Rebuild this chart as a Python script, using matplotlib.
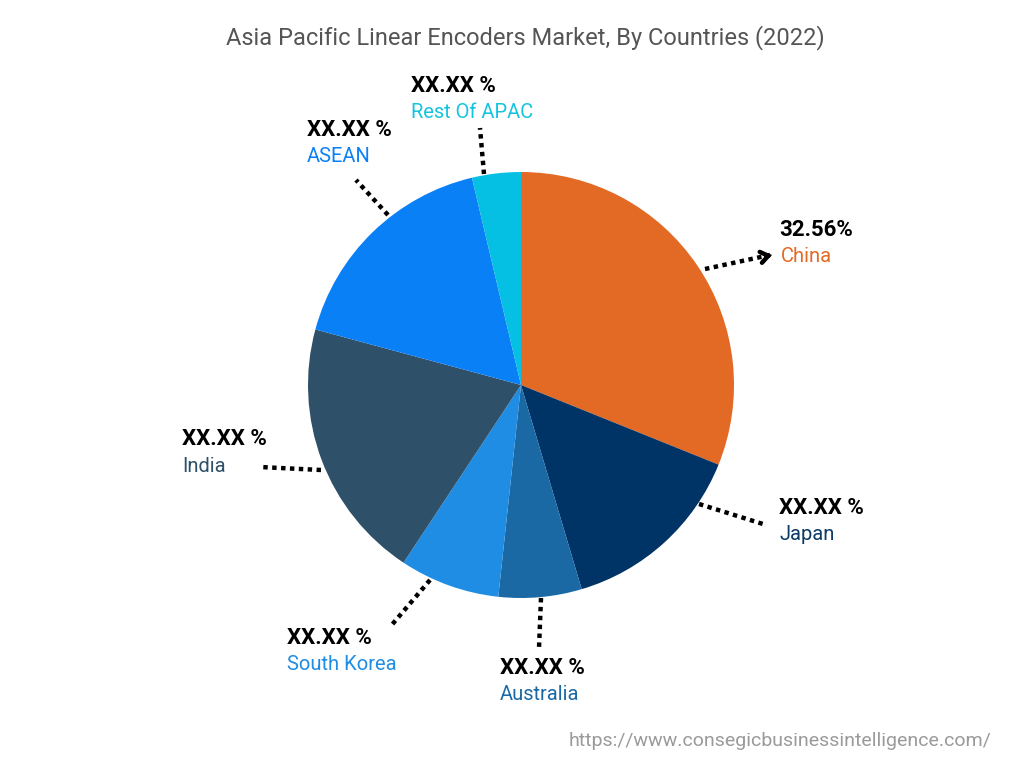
import numpy as np
import matplotlib
matplotlib.use("Agg")
import matplotlib.pyplot as plt

# ---- data ----
countries = ["China", "Japan", "Australia", "South Korea", "India", "ASEAN", "Rest Of APAC"]
shares = [31.1, 14.3, 6.3, 7.6, 19.9, 17.1, 3.7]
value_labels = ["32.56%", "XX.XX %", "XX.XX %", "XX.XX %", "XX.XX %", "XX.XX %", "XX.XX %"]
colors = ["#E36A25", "#003366", "#1A69A5", "#1E8DE3", "#2F5069", "#0A80F7", "#05C0E3"]
name_colors = ["#E36A25", "#0B3A66", "#1A69A5", "#1E8DE3", "#2F5069", "#0A80F7", "#14C3E0"]

title = "Asia Pacific Linear Encoders Market, By Countries (2022)"
source = "https://www.consegicbusinessintelligence.com/"

# ---- layout ----
W, H = 1024, 768
fig = plt.figure(figsize=(W / 100, H / 100), dpi=100)
ax = fig.add_axes([0, 0, 1, 1])

cx, cy, R = 521, H - 385, 213
wedges, _ = ax.pie(shares, colors=colors, startangle=90, counterclock=False,
                   center=(cx, cy), radius=R, frame=True,
                   wedgeprops=dict(linewidth=0))
ax.set_xlim(0, W)
ax.set_ylim(0, H)
ax.set_aspect("equal")
ax.axis("off")

FONT = ["Roboto", "DejaVu Sans"]

# leader lines (start px, end px) and label anchor (x, y of value text, px)
leaders = [
    ((705, 269), (772, 255), (779, 230)),
    ((699, 504), (765, 524), (779, 508)),
    ((541, 598), (541, 648), (500, 668)),
    ((430, 580), (392, 627), (287, 638)),
    ((321, 470), (262, 467), (182, 439)),
    ((388, 215), (358, 180), (307, 130)),
    ((484, 174), (482, 128), (411, 86)),
]

for i, (st, end, lab) in enumerate(leaders):
    sx, sy = st[0], H - st[1]
    ex, ey = end[0], H - end[1]
    ax.plot([sx, ex - 2], [sy, ey], color="black", lw=3.2,
            linestyle=(0, (1, 1)), solid_capstyle="butt")
    if i == 0:
        d = np.array([ex - sx, ey - sy], dtype=float)
        d /= np.linalg.norm(d)
        ax.annotate("", xy=(ex, ey), xytext=(ex - 6 * d[0], ey - 6 * d[1]),
                    arrowprops=dict(arrowstyle="->,head_length=0.55,head_width=0.4",
                                    color="black", lw=3.2, shrinkA=0, shrinkB=0,
                                    joinstyle="miter"))
    lx, ly = lab[0], H - lab[1]
    ax.text(lx, ly, value_labels[i], fontsize=16, fontweight="bold", color="black",
            family=FONT, ha="left", va="center")
    ax.text(lx + (2 if i == 0 else 0), ly - 27, countries[i], fontsize=14.5,
            color=name_colors[i], family=FONT, ha="left", va="center")

ax.text(525, H - 38, title, fontsize=17, color="#555555", family=FONT,
        ha="center", va="center")
ax.text(991, H - 741, source, fontsize=14, color="#9a9a9a", family=FONT,
        ha="right", va="center")

fig.savefig("out.png", dpi=100)
